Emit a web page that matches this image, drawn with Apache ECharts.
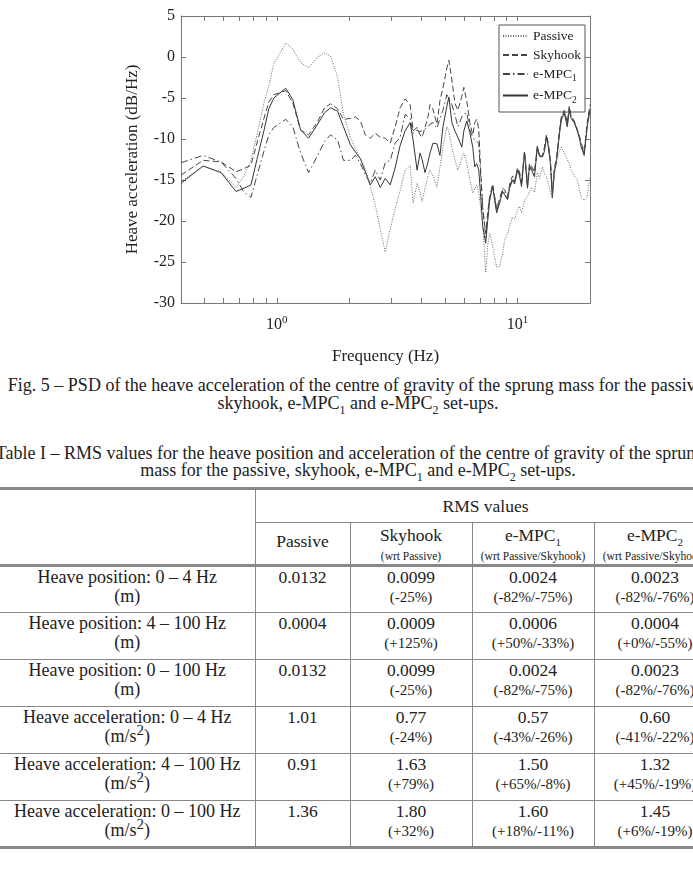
<!DOCTYPE html>
<html>
<head>
<meta charset="utf-8">
<title>PSD heave acceleration</title>
<script src="https://cdn.jsdelivr.net/npm/echarts@6/dist/echarts.min.js"></script>
<style>
    body { margin: 0; width: 693px; height: 891px; background: #fff; position: relative; overflow: hidden;
           font-family: "Liberation Serif", "DejaVu Serif", serif; color: #222; }
    #chart { position: absolute; left: 0; top: 0; width: 693px; height: 372px; }
    .txt { position: absolute; left: 0; width: 716px; text-align: center; white-space: nowrap;
           font-size: 18px; line-height: 18px; }
    .txt sub { font-size: 12px; line-height: 0; }
    #tblwrap { position: absolute; left: 0; top: 487px; width: 693px; overflow: hidden; }
    table { border-collapse: collapse; width: 716px; table-layout: fixed; font-size: 17.5px; }
    td { text-align: center; vertical-align: top; border: 1px solid #888; padding: 1px 0 0 0; line-height: 19px; }
    td sub, td sup { line-height: 0; }
    tr.top td { border-top: 3px solid #888; }
    tr.hdr td { border-bottom: 3px solid #888; }
    tr.last td { border-bottom: 3px solid #888; }
    td.first { border-left: none; font-size: 18px; }
    .sm { font-size: 11.5px; line-height: 13px; }
    .pc { font-size: 15px; }
</style>
</head>
<body>

<div id="chart"></div>

<div class="txt" style="top:376px;">Fig. 5 – PSD of the heave acceleration of the centre of gravity of the sprung mass for the passive,</div>
<div class="txt" style="top:394px;">skyhook, e-MPC<sub>1</sub> and e-MPC<sub>2</sub> set-ups.</div>
<div class="txt" style="top:444px; left:-8px;">Table I – RMS values for the heave position and acceleration of the centre of gravity of the sprung</div>
<div class="txt" style="top:461px;">mass for the passive, skyhook, e-MPC<sub>1</sub> and e-MPC<sub>2</sub> set-ups.</div>

<div id="tblwrap"><table id="tbl"></table></div>

<script type="text/javascript">
    // frequency grid (Hz) shared by the four PSD curves
    var freqs = [0.4, 0.494, 0.587, 0.677, 0.731, 0.781, 0.827, 0.884, 0.927, 0.972,
        1.089, 1.165, 1.256, 1.356, 1.477, 1.579, 1.672, 1.787, 1.892, 2.022,
        2.121, 2.224, 2.332, 2.445, 2.565, 2.69, 2.821, 2.959, 3.103, 3.253,
        3.413, 3.579, 3.683, 3.826, 3.936, 4.012, 4.128, 4.248, 4.33, 4.455,
        4.627, 4.761, 4.899, 5.089, 5.187, 5.337, 5.492, 5.651, 5.871, 5.984,
        6.157, 6.336, 6.517, 6.642, 6.77, 6.9, 7.033, 7.168, 7.376, 7.516,
        7.661, 7.884, 8.035, 8.189, 8.427, 8.67, 8.841, 9.094, 9.268, 9.535,
        9.719, 10.0, 10.19, 10.39, 10.69, 11.0, 11.21, 11.43, 11.76, 12.09,
        12.33, 12.69, 12.93, 13.18, 13.43, 13.69, 13.95, 14.22, 14.5, 14.92,
        15.2, 15.64, 16.09, 16.4, 16.71, 17.2, 17.7, 18.04, 18.39, 18.92,
        19.47, 20];

    // PSD values (dB/Hz)
    var passive = [-15.2, -13.3, -14.0, -15.9, -14.5, -12.6, -9.5, -5.6, -3.5, -0.8,
        1.7, 1.0, -0.7, -1.3, 0.0, 0.5, 0.1, -2.4, -7.0, -9.8,
        -11.2, -12.4, -13.6, -15.8, -18.0, -21.0, -23.8, -21.0, -18.5, -16.3,
        -13.8, -13.2, -17.8, -15.4, -16.5, -17.6, -16.0, -14.5, -13.8, -14.5,
        -15.9, -13.5, -11.0, -8.5, -9.2, -11.0, -12.5, -13.8, -12.3, -11.7,
        -13.0, -15.0, -16.6, -16.4, -15.6, -16.5, -18.5, -20.5, -26.3, -23.0,
        -21.5, -23.0, -24.5, -25.6, -25.5, -24.0, -22.3, -21.5, -20.7, -19.5,
        -19.8, -18.7, -18.2, -19.0, -17.5, -17.0, -16.8, -15.9, -16.5, -14.1,
        -14.8, -13.4, -14.2, -14.6, -15.5, -16.5, -17.1, -14.5, -12.6, -11.5,
        -11.0, -11.7, -12.5, -13.0, -13.8, -14.5, -15.0, -16.0, -17.1, -17.5,
        -17.0, -14.6];
    var skyhook = [-14.4, -12.6, -12.8, -14.0, -13.6, -13.2, -10.5, -7.5, -5.5, -4.6,
        -4.1, -5.6, -8.9, -9.5, -7.9, -6.2, -5.7, -6.3, -7.6, -7.5,
        -7.3, -7.8, -9.5, -9.9, -9.3, -9.8, -9.9, -10.5, -8.5, -6.2,
        -5.1, -5.8, -9.0, -8.6, -9.5, -9.8, -8.6, -7.3, -5.8, -6.4,
        -8.2, -5.3, -3.8, -1.3, -0.4, -2.8, -5.6, -6.5, -4.8, -3.7,
        -5.4, -8.0, -9.5, -8.0, -7.6, -8.8, -14.0, -18.5, -21.5, -19.0,
        -17.0, -15.5, -17.0, -18.5, -17.3, -16.0, -16.2, -17.0, -15.5, -14.5,
        -15.2, -13.5, -14.0, -15.2, -11.5, -15.5, -13.0, -13.3, -14.0, -10.8,
        -12.2, -12.0, -11.0, -9.5, -10.5, -12.5, -16.5, -13.5, -12.5, -9.0,
        -7.3, -6.5, -8.0, -6.0, -7.2, -7.8, -8.8, -9.5, -10.5, -11.5,
        -8.0, -5.8];
    var empc1 = [-12.9, -12.0, -12.8, -14.8, -16.5, -17.1, -14.5, -11.5, -9.5, -8.6,
        -7.6, -8.5, -11.7, -14.1, -12.0, -10.3, -9.5, -10.1, -12.6, -12.6,
        -12.0, -13.0, -14.3, -15.4, -13.8, -15.0, -12.9, -12.6, -10.5, -9.8,
        -7.0, -7.5, -9.3, -8.9, -9.1, -9.3, -8.8, -8.5, -8.2, -8.0,
        -8.7, -7.5, -6.5, -4.6, -4.4, -5.8, -7.0, -8.5, -7.3, -7.0,
        -6.8, -8.9, -9.8, -10.1, -10.3, -10.5, -14.5, -18.3, -22.0, -19.5,
        -17.0, -15.8, -17.2, -18.8, -17.5, -16.2, -16.5, -17.2, -15.8, -14.8,
        -15.3, -13.6, -14.3, -15.5, -11.6, -15.8, -13.2, -13.6, -14.3, -10.9,
        -12.1, -12.1, -11.3, -9.6, -10.8, -12.7, -16.8, -13.8, -12.7, -9.3,
        -7.5, -6.6, -8.3, -6.2, -7.4, -7.9, -8.9, -9.7, -10.8, -11.8,
        -8.3, -6.2];
    var empc2 = [-15.4, -13.3, -14.1, -16.4, -16.0, -15.6, -12.5, -9.0, -6.3, -5.0,
        -3.8, -5.2, -8.9, -9.9, -8.2, -6.8, -6.2, -6.6, -8.5, -10.7,
        -11.6, -12.4, -14.0, -15.6, -14.6, -15.9, -14.8, -15.6, -13.5, -10.8,
        -9.0, -8.0, -10.1, -13.8, -11.7, -12.5, -14.1, -12.8, -11.7, -10.5,
        -10.6, -12.0, -8.5, -6.0, -4.9, -8.0, -9.0, -9.8, -11.0, -9.0,
        -7.8, -9.2, -11.0, -13.4, -13.0, -13.8, -17.0, -20.7, -22.7, -20.0,
        -17.5, -15.8, -17.5, -19.0, -17.8, -16.4, -16.8, -17.4, -16.0, -15.0,
        -15.5, -13.8, -14.5, -15.8, -11.7, -16.0, -13.4, -13.8, -14.6, -11.0,
        -12.0, -12.2, -11.5, -9.8, -11.0, -12.9, -17.2, -14.0, -12.9, -9.5,
        -7.7, -6.8, -8.5, -6.5, -7.5, -8.0, -9.0, -9.8, -11.0, -12.0,
        -8.5, -6.5];

    var seriesNames = ['Passive', 'Skyhook', 'e-MPC1', 'e-MPC2'];
    var xTicks = [0.5, 0.6, 0.7, 0.8, 0.9, 1, 2, 3, 4, 5, 6, 7, 8, 9, 10, 20];
    var xLabels = [1, 10];

    // Table I
    var rowLabels = ['Heave position: 0 – 4 Hz', 'Heave position: 4 – 100 Hz', 'Heave position: 0 – 100 Hz',
        'Heave acceleration: 0 – 4 Hz', 'Heave acceleration: 4 – 100 Hz', 'Heave acceleration: 0 – 100 Hz'];
    var rowUnits = ['(m)', '(m)', '(m)', '(m/s<sup>2</sup>)', '(m/s<sup>2</sup>)', '(m/s<sup>2</sup>)'];
    var rmsPassive = ['0.0132', '0.0004', '0.0132', '1.01', '0.91', '1.36'];
    var rmsSkyhook = ['0.0099', '0.0009', '0.0099', '0.77', '1.63', '1.80'];
    var pctSkyhook = ['(-25%)', '(+125%)', '(-25%)', '(-24%)', '(+79%)', '(+32%)'];
    var rmsEmpc1 = ['0.0024', '0.0006', '0.0024', '0.57', '1.50', '1.60'];
    var pctEmpc1 = ['(-82%/-75%)', '(+50%/-33%)', '(-82%/-75%)', '(-43%/-26%)', '(+65%/-8%)', '(+18%/-11%)'];
    var rmsEmpc2 = ['0.0023', '0.0004', '0.0023', '0.60', '1.32', '1.45'];
    var pctEmpc2 = ['(-82%/-76%)', '(+0%/-55%)', '(-82%/-76%)', '(-41%/-22%)', '(+45%/-19%)', '(+6%/-19%)'];

    // build the table
    var html = '<colgroup><col style="width:255px"><col style="width:95px"><col style="width:122px">' +
        '<col style="width:122px"><col style="width:122px"></colgroup>';
    html += '<tr class="top" style="height:34px"><td class="first" rowspan="2" style="border-bottom:3px solid #888"></td>' +
        '<td colspan="4" style="padding-top:7px">RMS values</td></tr>';
    html += '<tr class="hdr" style="height:39px"><td style="padding-top:9px">Passive</td>' +
        '<td style="padding-top:3px">Skyhook<br><span class="sm">(wrt Passive)</span></td>' +
        '<td style="padding-top:3px">e-MPC<sub style="font-size:11px">1</sub><br><span class="sm">(wrt Passive/Skyhook)</span></td>' +
        '<td style="padding-top:3px">e-MPC<sub style="font-size:11px">2</sub><br><span class="sm">(wrt Passive/Skyhook)</span></td></tr>';
    for (var i = 0; i < rowLabels.length; i++) {
        html += '<tr style="height:47px"' + (i === rowLabels.length - 1 ? ' class="last"' : '') + '>' +
            '<td class="first">' + rowLabels[i] + '<br>' + rowUnits[i] + '</td>' +
            '<td>' + rmsPassive[i] + '</td>' +
            '<td>' + rmsSkyhook[i] + '<br><span class="pc">' + pctSkyhook[i] + '</span></td>' +
            '<td>' + rmsEmpc1[i] + '<br><span class="pc">' + pctEmpc1[i] + '</span></td>' +
            '<td>' + rmsEmpc2[i] + '<br><span class="pc">' + pctEmpc2[i] + '</span></td></tr>';
    }
    document.getElementById('tbl').innerHTML = html;

    // chart
    var serif = 'Liberation Serif';
    var axisGray = '#777';
    var myChart = echarts.init(document.getElementById('chart'));

    function pairs(vals) {
        return freqs.map(function (f, i) { return [f, vals[i]]; });
    }

    var lineStyles = [
        {color: '#666', width: 1, type: [1, 1.5]},
        {color: '#444', width: 1, type: [6, 3]},
        {color: '#444', width: 1, type: [7, 3, 1.5, 3]},
        {color: '#333', width: 1, type: 'solid'}
    ];
    var dataSets = [passive, skyhook, empc1, empc2];

    var xBase = {
        type: 'log', logBase: 10, min: 0.4, max: 20,
        axisLine: {show: true, onZero: false, lineStyle: {color: axisGray}},
        axisTick: {show: true, inside: true, length: 5, customValues: xTicks, lineStyle: {color: axisGray}},
        splitLine: {show: false}
    };
    var yBase = {
        type: 'value', min: -30, max: 5, interval: 5,
        axisLine: {show: true, lineStyle: {color: axisGray}},
        axisTick: {show: true, inside: true, length: 5, lineStyle: {color: axisGray}},
        splitLine: {show: false}
    };

    myChart.setOption({
        animation: false,
        grid: {left: 181, top: 16, width: 409, height: 287},
        legend: {
            data: seriesNames,
            orient: 'vertical',
            left: 499, top: 25,
            itemWidth: 25, itemHeight: 10, itemGap: 5,
            padding: [4, 4, 7, 3],
            borderColor: '#555', borderWidth: 1,
            backgroundColor: '#fff',
            itemStyle: {opacity: 0},
            textStyle: {
                fontFamily: serif, fontSize: 13.5, color: '#222',
                rich: {sub: {fontFamily: serif, fontSize: 9.5, color: '#222', padding: [9, 0, 0, 0]}}
            },
            formatter: function (name) {
                return name.indexOf('e-MPC') === 0 ? 'e-MPC{sub|' + name.slice(5) + '}' : name;
            }
        },
        xAxis: [
            Object.assign({}, xBase, {
                position: 'bottom',
                name: 'Frequency (Hz)', nameLocation: 'middle', nameGap: 45,
                nameTextStyle: {fontFamily: serif, fontSize: 17, color: '#222'},
                axisLabel: {
                    customValues: xLabels, margin: 12,
                    fontFamily: serif, fontSize: 16, color: '#222',
                    formatter: function (v) { return '10{sup|' + Math.round(Math.log(v) / Math.LN10) + '}'; },
                    rich: {sup: {fontFamily: serif, fontSize: 11, color: '#222', padding: [0, 0, 9, 0]}}
                }
            }),
            Object.assign({}, xBase, {position: 'top', axisLabel: {show: false}})
        ],
        yAxis: [
            Object.assign({}, yBase, {
                position: 'left',
                name: 'Heave acceleration (dB/Hz)', nameLocation: 'middle', nameGap: 40,
                nameTextStyle: {fontFamily: serif, fontSize: 17, color: '#222'},
                axisLabel: {fontFamily: serif, fontSize: 16, color: '#222', margin: 6}
            }),
            Object.assign({}, yBase, {position: 'right', axisLabel: {show: false}})
        ],
        series: seriesNames.map(function (n, k) {
            return {
                name: n, type: 'line', xAxisIndex: 0, yAxisIndex: 0,
                symbol: 'none', data: pairs(dataSets[k]),
                lineStyle: lineStyles[k], itemStyle: {color: lineStyles[k].color},
                z: 10 - k
            };
        })
    });
</script>
</body>
</html>
